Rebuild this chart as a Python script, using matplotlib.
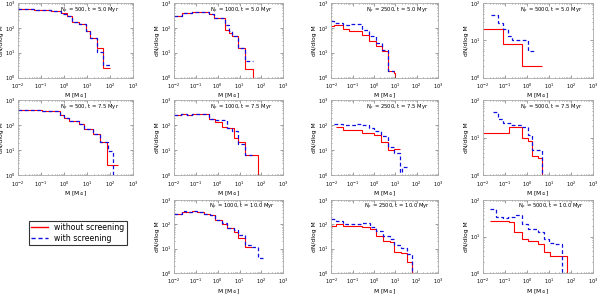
import matplotlib
matplotlib.use('Agg')
import matplotlib.pyplot as plt
import numpy as np

# particle numbers (columns) and times (rows)
n_part = [500, 1000, 2500, 5000]
times = [5.0, 7.5, 10.0]

# y decades shown per column (log10 of lower / upper limit)
ylims = [(0, 3), (0, 3), (0, 3), (0, 2)]

# histograms: log10 bin edges and log10 dN/dlogM (None = empty bin)
# row 0, t = 5.0 Myr
e00_b = [-2, -1.29, -0.57, -0.14, 0.14, 0.36, 0.64, 0.93, 1.14, 1.43, 1.71, 2.0]
h00_b = [2.74, 2.71, 2.67, 2.54, 2.48, 2.22, 2.15, 1.89, 1.60, 1.04, 0.52]
e00_r = [-2, -1.29, -0.57, -0.14, 0.14, 0.36, 0.64, 0.93, 1.14, 1.43, 1.71, 2.0]
h00_r = [2.74, 2.70, 2.67, 2.58, 2.48, 2.22, 2.15, 1.89, 1.60, 1.17, 0.39]

e01_b = [-2, -1.62, -1.17, -0.41, -0.18, 0.35, 0.5, 0.65, 0.95, 1.26, 1.64]
h01_b = [2.47, 2.6, 2.64, 2.57, 2.4, 2.13, 1.87, 1.67, 1.2, 0.67]
e01_r = [-2, -1.62, -1.17, -0.41, -0.18, 0.35, 0.5, 0.65, 0.95, 1.26, 1.64, 1.8]
h01_r = [2.47, 2.6, 2.64, 2.57, 2.4, 1.93, 1.8, 1.67, 1.2, 0.33, None]

e02_b = [-2, -1.85, -1.46, -1.15, -0.54, -0.23, 0.08, 0.38, 0.65, 0.92]
h02_b = [2.27, 2.2, 2.13, 2.16, 1.93, 1.67, 1.4, 1.09, 0.27]
e02_r = [-2, -1.85, -1.46, -1.15, -0.54, -0.23, 0.08, 0.38, 0.65, 0.92, 1.0, 1.2]
h02_r = [2.07, 2.13, 1.97, 1.87, 1.73, 1.47, 1.27, 1.07, 0.27, 0.2, None]

e03_b = [-1.63, -1.33, -1.1, -0.88, -0.66, 0.06, 0.31]
h03_b = [1.69, 1.47, 1.29, 1.11, 1.02, 0.71]
e03_r = [-2, -1.1, -0.21, 0.69]
h03_r = [1.29, 0.89, 0.31]

# row 1, t = 7.5 Myr
e10_b = [-2, -0.97, -0.16, -0.01, 0.21, 0.65, 0.87, 1.25, 1.54, 1.9, 2.13, 2.3]
h10_b = [2.62, 2.55, 2.42, 2.27, 2.17, 2.04, 1.85, 1.65, 1.33, 0.95, None]
e10_r = [-2, -0.97, -0.16, -0.01, 0.21, 0.65, 0.87, 1.25, 1.54, 1.85, 2.34]
h10_r = [2.62, 2.55, 2.42, 2.27, 2.17, 2.04, 1.85, 1.65, 1.33, 0.4]

e11_b = [-2, -1.7, -1.39, -1.17, -0.41, -0.11, 0.42, 0.65, 0.95, 1.26, 1.56]
h11_b = [2.41, 2.46, 2.41, 2.44, 2.25, 2.19, 1.87, 1.75, 1.25, 0.81]
e11_r = [-2, -1.7, -1.39, -1.17, -0.41, -0.11, 0.2, 0.42, 0.73, 0.95, 1.26, 1.56, 1.86, 2.0]
h11_r = [2.41, 2.46, 2.41, 2.44, 2.25, 2.13, 1.94, 1.87, 1.5, 1.31, 0.81, 0.81, None]

e12_b = [-1.85, -1.46, -1.15, -0.85, -0.54, -0.23, 0, 0.31, 0.65, 0.92, 1.23, 1.31, 1.54]
h12_b = [2.06, 2.0, 2.0, 2.06, 2.0, 1.87, 1.75, 1.56, 1.13, 0.88, None, 0.31]
e12_r = [-1.77, -1.46, -1.15, -0.54, 0, 0.31, 0.65, 0.92, 1.23]
h12_r = [1.94, 1.81, 1.81, 1.69, 1.62, 1.31, 1.0, 1.06]

e13_b = [-1.55, -1.33, -1.1, -0.73, -0.21, 0.04, 0.24, 0.49, 0.69, 0.9]
h13_b = [1.67, 1.5, 1.39, 1.33, 1.29, 1.08, 0.67, 0.67, None]
e13_r = [-2, -0.81, -0.21, 0.04, 0.24, 0.49, 0.69, 0.9]
h13_r = [1.13, 1.29, 1.0, 0.92, 0.5, 0.46, None]

# row 2, t = 10.0 Myr
e21_b = [-2, -1.62, -1.47, -1.17, -0.94, -0.64, -0.33, -0.11, 0.2, 0.42, 0.73, 0.95, 1.26, 1.56, 1.86, 2.09]
h21_b = [2.41, 2.54, 2.5, 2.54, 2.5, 2.44, 2.38, 2.19, 2.06, 1.87, 1.75, 1.56, 1.13, 1.06, 0.6]
e21_r = [-2, -1.62, -1.47, -1.17, -0.94, -0.64, -0.33, -0.11, 0.2, 0.42, 0.73, 0.95, 1.26, 1.56]
h21_r = [2.41, 2.5, 2.5, 2.54, 2.5, 2.44, 2.38, 2.19, 2.0, 1.87, 1.69, 1.44, 1.06]

e22_b = [-2, -1.77, -1.47, -1.09, -0.56, -0.18, 0.12, 0.42, 0.73, 0.95, 1.26, 1.56, 1.79, 2.3]
h22_b = [2.23, 2.14, 2.01, 2.01, 2.04, 1.91, 1.72, 1.53, 1.4, 1.14, 1.01, 0.76, None]
e22_r = [-2, -1.77, -1.47, -1.09, -0.56, -0.18, 0.12, 0.42, 0.73, 0.95, 1.26, 1.56, 1.79, 2.0]
h22_r = [1.95, 2.01, 1.95, 1.95, 1.91, 1.81, 1.53, 1.33, 1.27, 0.88, 0.82, 0.44, None]

e23_b = [-1.7, -1.4, -1.1, -0.88, -0.51, -0.21, 0.04, 0.49, 0.76, 0.99, 1.28, 1.58, 2.1]
h23_b = [1.75, 1.54, 1.5, 1.54, 1.58, 1.33, 1.21, 1.13, 0.92, 0.83, 0.79, None]
e23_r = [-1.7, -0.81, -0.58, -0.21, 0.04, 0.49, 0.76, 1.06, 1.28, 1.58, 1.81, 2.0]
h23_r = [1.42, 1.39, 1.13, 0.92, 0.88, 0.79, 0.58, 0.46, 0.46, 0.46, None]

panels = {
    (0, 0): (e00_r, h00_r, e00_b, h00_b),
    (0, 1): (e01_r, h01_r, e01_b, h01_b),
    (0, 2): (e02_r, h02_r, e02_b, h02_b),
    (0, 3): (e03_r, h03_r, e03_b, h03_b),
    (1, 0): (e10_r, h10_r, e10_b, h10_b),
    (1, 1): (e11_r, h11_r, e11_b, h11_b),
    (1, 2): (e12_r, h12_r, e12_b, h12_b),
    (1, 3): (e13_r, h13_r, e13_b, h13_b),
    (2, 1): (e21_r, h21_r, e21_b, h21_b),
    (2, 2): (e22_r, h22_r, e22_b, h22_b),
    (2, 3): (e23_r, h23_r, e23_b, h23_b),
}


def to_lin(logvals):
    return np.array([0.0 if v is None else 10 ** v for v in logvals])


fig = plt.figure(figsize=(6.0, 2.96), dpi=100)

col_x = [(0.030, 0.222), (0.290, 0.472), (0.552, 0.730), (0.805, 0.988)]
row_y = [(0.738, 0.990), (0.408, 0.662), (0.078, 0.324)]

for (i, j), (er, hr, eb, hb) in panels.items():
    x0, x1 = col_x[j]
    y0, y1 = row_y[i]
    ax = fig.add_axes([x0, y0, x1 - x0, y1 - y0])
    ax.stairs(to_lin(hr), 10 ** np.array(er), baseline=None, color='red', lw=0.8)
    ax.stairs(to_lin(hb), 10 ** np.array(eb), baseline=None, color='#1010e0', lw=0.9,
              linestyle=(0, (3, 2)))
    ax.set_xscale('log')
    ax.set_yscale('log')
    ax.set_xlim(1e-2, 1e3)
    lo, hi = ylims[j]
    ax.set_ylim(10 ** lo, 10 ** hi)
    ax.tick_params(which='both', direction='in', top=True, right=True,
                   labelsize=3.6, pad=3.0, width=0.4, colors='#555555',
                   labelcolor='black')
    ax.tick_params(axis='y', pad=1.8)
    ax.tick_params(which='major', length=2)
    ax.tick_params(which='minor', length=1)
    for s in ax.spines.values():
        s.set_color('#aaaaaa')
        s.set_linewidth(0.6)
    ax.set_xlabel(r'M [M$_\odot$]', fontsize=4.3, labelpad=0.4)
    ax.set_ylabel(r'dN/dlog M', fontsize=4.3, labelpad=0.8)
    ax.text(0.62, 0.9, r'N$_p$ = %d, t = %.1f Myr' % (n_part[j], times[i]),
            transform=ax.transAxes, ha='center', va='center', fontsize=3.8)

# legend in the empty bottom-left slot
lx0, lx1 = col_x[0]
ly0, ly1 = row_y[2]
lax = fig.add_axes([lx0, ly0, lx1 - lx0, ly1 - ly0])
lax.axis('off')
lax.plot([], [], color='red', lw=1, label='without screening')
lax.plot([], [], color='#1010e0', lw=1, linestyle=(0, (3, 2)), label='with screening')
leg = lax.legend(loc='center', bbox_to_anchor=(0.52, 0.55), fontsize=5.6,
                 frameon=True, fancybox=False, handlelength=2.2,
                 borderpad=0.3, labelspacing=0.2)
leg.get_frame().set_edgecolor('black')
leg.get_frame().set_linewidth(0.8)

fig.savefig('out.png', dpi=100)
